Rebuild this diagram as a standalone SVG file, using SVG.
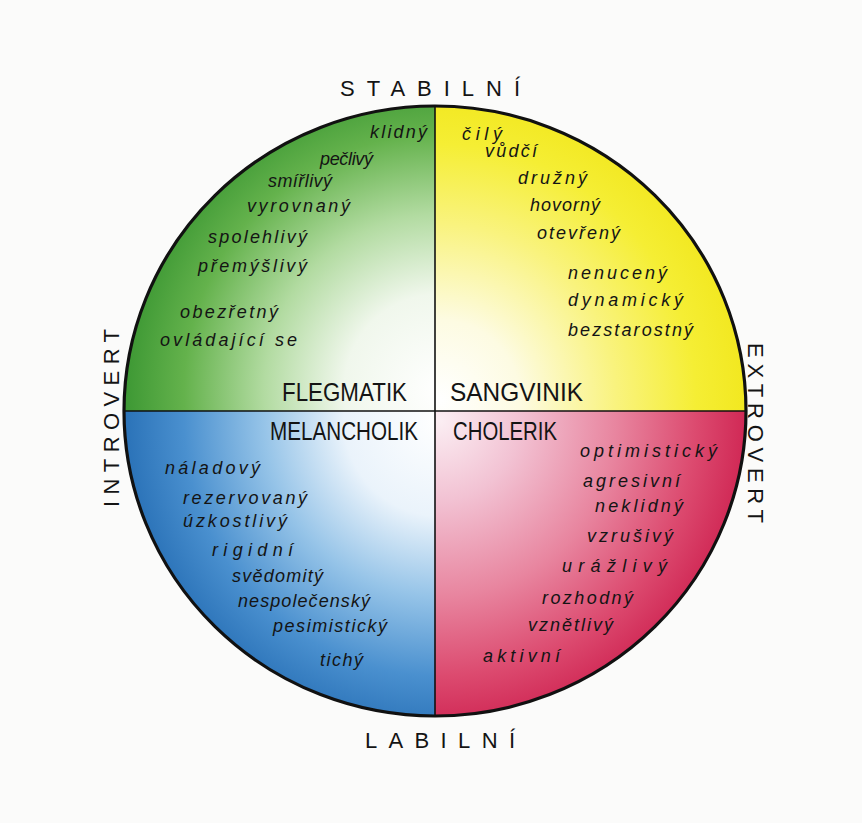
<svg xmlns="http://www.w3.org/2000/svg" width="862" height="823" viewBox="0 0 862 823">
<defs>
<radialGradient id="gG" gradientUnits="userSpaceOnUse" cx="440" cy="390" r="320">
<stop offset="0" stop-color="#ffffff"/><stop offset="0.3" stop-color="#f0f7ec"/><stop offset="0.55" stop-color="#b2dba1"/><stop offset="0.8" stop-color="#64b24c"/><stop offset="1" stop-color="#3a9632"/>
</radialGradient>
<radialGradient id="gY" gradientUnits="userSpaceOnUse" cx="440" cy="400" r="320">
<stop offset="0" stop-color="#ffffff"/><stop offset="0.25" stop-color="#fdfbe2"/><stop offset="0.55" stop-color="#f9f37e"/><stop offset="0.8" stop-color="#f5ee34"/><stop offset="1" stop-color="#f1e61a"/>
</radialGradient>
<radialGradient id="gB" gradientUnits="userSpaceOnUse" cx="440" cy="420" r="320">
<stop offset="0" stop-color="#ffffff"/><stop offset="0.3" stop-color="#eaf3fb"/><stop offset="0.55" stop-color="#96c4e8"/><stop offset="0.8" stop-color="#4a90cf"/><stop offset="1" stop-color="#2870b6"/>
</radialGradient>
<radialGradient id="gR" gradientUnits="userSpaceOnUse" cx="440" cy="420" r="320">
<stop offset="0" stop-color="#fbeef3"/><stop offset="0.25" stop-color="#f2c2d3"/><stop offset="0.55" stop-color="#e8859f"/><stop offset="0.8" stop-color="#dc4a6f"/><stop offset="1" stop-color="#cd1f4e"/>
</radialGradient>
<style>
.w{font-family:"Liberation Sans","DejaVu Sans",sans-serif;font-style:italic;font-size:18px;fill:#141414}
.t{font-family:"Liberation Sans","DejaVu Sans",sans-serif;font-size:25px;fill:#141414}
.a{font-family:"Liberation Sans","DejaVu Sans",sans-serif;font-size:22px;fill:#141414}
</style>
</defs>
<rect x="0" y="0" width="862" height="823" fill="#fbfbfa"/>
<g id="flegmatik">
<path d="M435 411 L435 106 A311 305 0 0 0 124 411 Z" fill="url(#gG)"/>
<text class="t" x="282" y="401" textLength="125" lengthAdjust="spacingAndGlyphs">FLEGMATIK</text>
<text class="w" x="370" y="138" textLength="57" lengthAdjust="spacing">klidný</text>
<text class="w" x="320" y="165" textLength="53" lengthAdjust="spacing">pečlivý</text>
<text class="w" x="268" y="187" textLength="64" lengthAdjust="spacing">smířlivý</text>
<text class="w" x="247" y="212" textLength="103" lengthAdjust="spacing">vyrovnaný</text>
<text class="w" x="208" y="243" textLength="99" lengthAdjust="spacing">spolehlivý</text>
<text class="w" x="198" y="272" textLength="109" lengthAdjust="spacing">přemýšlivý</text>
<text class="w" x="180" y="318" textLength="98" lengthAdjust="spacing">obezřetný</text>
<text class="w" x="160" y="346" textLength="137" lengthAdjust="spacing">ovládající se</text>
</g>
<g id="sangvinik">
<path d="M435 411 L435 106 A311 305 0 0 1 746 411 Z" fill="url(#gY)"/>
<text class="t" x="450" y="401" textLength="133" lengthAdjust="spacingAndGlyphs">SANGVINIK</text>
<text class="w" x="462" y="140" textLength="40" lengthAdjust="spacing">čilý</text>
<text class="w" x="485" y="157" textLength="52" lengthAdjust="spacing">vůdčí</text>
<text class="w" x="518" y="184" textLength="69" lengthAdjust="spacing">družný</text>
<text class="w" x="530" y="211" textLength="70" lengthAdjust="spacing">hovorný</text>
<text class="w" x="537" y="239" textLength="83" lengthAdjust="spacing">otevřený</text>
<text class="w" x="568" y="279" textLength="99" lengthAdjust="spacing">nenucený</text>
<text class="w" x="568" y="306" textLength="115" lengthAdjust="spacing">dynamický</text>
<text class="w" x="568" y="336" textLength="125" lengthAdjust="spacing">bezstarostný</text>
</g>
<g id="melancholik">
<path d="M435 411 L435 716 A311 305 0 0 1 124 411 Z" fill="url(#gB)"/>
<text class="t" x="270" y="440" textLength="148" lengthAdjust="spacingAndGlyphs">MELANCHOLIK</text>
<text class="w" x="165" y="474" textLength="95" lengthAdjust="spacing">náladový</text>
<text class="w" x="183" y="504" textLength="124" lengthAdjust="spacing">rezervovaný</text>
<text class="w" x="183" y="527" textLength="104" lengthAdjust="spacing">úzkostlivý</text>
<text class="w" x="212" y="556" textLength="81" lengthAdjust="spacing">rigidní</text>
<text class="w" x="232" y="582" textLength="91" lengthAdjust="spacing">svědomitý</text>
<text class="w" x="238" y="607" textLength="132" lengthAdjust="spacing">nespolečenský</text>
<text class="w" x="273" y="632" textLength="114" lengthAdjust="spacing">pesimistický</text>
<text class="w" x="320" y="666" textLength="43" lengthAdjust="spacing">tichý</text>
</g>
<g id="cholerik">
<path d="M435 411 L435 716 A311 305 0 0 0 746 411 Z" fill="url(#gR)"/>
<text class="t" x="453" y="440" textLength="104" lengthAdjust="spacingAndGlyphs">CHOLERIK</text>
<text class="w" x="580" y="457" textLength="137" lengthAdjust="spacing">optimistický</text>
<text class="w" x="583" y="487" textLength="97" lengthAdjust="spacing">agresivní</text>
<text class="w" x="595" y="512" textLength="88" lengthAdjust="spacing">neklidný</text>
<text class="w" x="587" y="542" textLength="86" lengthAdjust="spacing">vzrušivý</text>
<text class="w" x="562" y="572" textLength="105" lengthAdjust="spacing">urážlivý</text>
<text class="w" x="542" y="604" textLength="91" lengthAdjust="spacing">rozhodný</text>
<text class="w" x="528" y="631" textLength="85" lengthAdjust="spacing">vznětlivý</text>
<text class="w" x="483" y="662" textLength="77" lengthAdjust="spacing">aktivní</text>
</g>
<g id="connectors" fill="none" stroke="#111" stroke-linecap="round">
<line x1="435" y1="106" x2="435" y2="716" stroke-width="1.6"/>
<line x1="124" y1="411" x2="746" y2="411" stroke-width="1.6"/>
<ellipse cx="435" cy="411" rx="311" ry="305" stroke-width="3.2"/>
</g>
<g id="axes">
<text class="a" x="340" y="96" textLength="180" lengthAdjust="spacing">STABILNÍ</text>
<text class="a" x="365" y="748" textLength="150" lengthAdjust="spacing">LABILNÍ</text>
<text class="a" transform="translate(119 507) rotate(-90)" x="0" y="0" textLength="178" lengthAdjust="spacing">INTROVERT</text>
<text class="a" transform="translate(748 343) rotate(90)" x="0" y="0" textLength="180" lengthAdjust="spacing">EXTROVERT</text>
</g>
</svg>
